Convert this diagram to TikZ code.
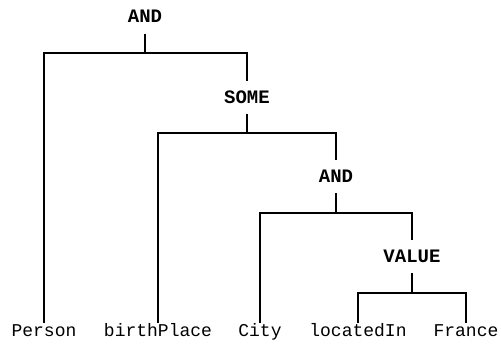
\documentclass[tikz,border=0pt]{standalone}
\usepackage{fontspec}
\setmonofont{Liberation Mono}
\begin{document}
\begin{tikzpicture}[x=1pt,y=1pt,line width=2pt,
    op/.style={font=\ttfamily\bfseries\fontsize{19}{20}\selectfont,anchor=base,
      inner xsep=0pt,inner ysep=10pt,text height=11pt,text depth=0pt},
    leaf/.style={font=\ttfamily\fontsize{18}{20}\selectfont,anchor=base,
      inner sep=0pt,text height=12.5pt,text depth=0pt}]
    \useasboundingbox (0,0) rectangle (501,349);
    % operators
    \node[op] (and1) at (145,326) {AND};
    \node[op] (some) at (247,246) {SOME};
    \node[op] (and2) at (336,167) {AND};
    \node[op] (value) at (412,87) {VALUE};
    % leaves
    \node[leaf] (person) at (44,12.5) {Person};
    \node[leaf] (birth) at (158,12.5) {birthPlace};
    \node[leaf] (city) at (260,12.5) {City};
    \node[leaf] (located) at (358,12.5) {locatedIn};
    \node[leaf] (france) at (466,12.5) {France};
    % forks
    \foreach \p/\l/\r/\y in {and1/person/some/296,some/birth/and2/216,
        and2/city/value/136,value/located/france/56}{
      \coordinate (bar-\p) at (\p.south |- 0,\y);
      \draw (\p.south) -- (bar-\p);
      \draw (\l.north) |- (bar-\p) -| (\r.north);
    }
  \end{tikzpicture}
\end{document}
